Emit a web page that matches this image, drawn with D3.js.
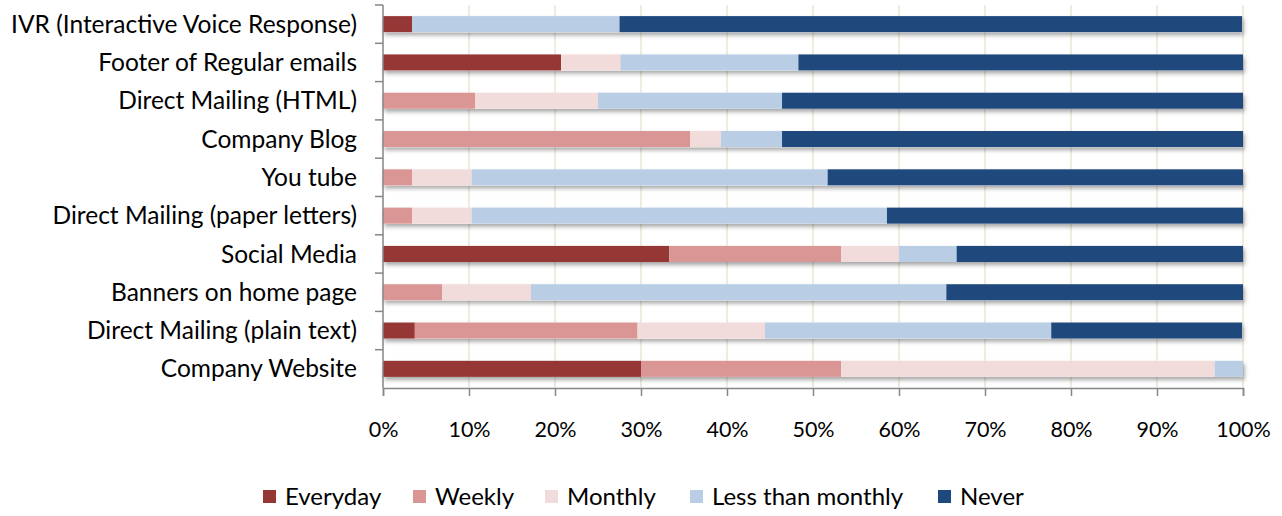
<!DOCTYPE html>
<html lang="en">
<head>
<meta charset="UTF-8">
<title>Channel usage</title>
<style>
  body { margin: 0; background: #fff; }
  text { font-family: Lato, "Open Sans", sans-serif; fill: #000; }
</style>
</head>
<body>
<svg width="1282" height="516"></svg>
<script src="https://cdnjs.cloudflare.com/ajax/libs/d3/7.8.5/d3.min.js"></script>
<script>
// categories listed top to bottom
var categories = ["IVR (Interactive Voice Response)", "Footer of Regular emails", "Direct Mailing (HTML)",
    "Company Blog", "You tube", "Direct Mailing (paper letters)", "Social Media",
    "Banners on home page", "Direct Mailing (plain text)", "Company Website"];
var seriesNames = ["Everyday", "Weekly", "Monthly", "Less than monthly", "Never"];
var seriesColors = ["#953735", "#D99694", "#F2DCDB", "#B9CDE5", "#1F497D"];

// percentages per series, same order as categories
var everyday = [3.4, 20.7, 0, 0, 0, 0, 33.3, 0, 3.7, 30.0];
var weekly = [0, 0, 10.7, 35.7, 3.4, 3.4, 20.0, 6.9, 25.9, 23.3];
var monthly = [0, 6.9, 14.3, 3.6, 6.9, 6.9, 6.7, 10.3, 14.8, 43.4];
var lessThanMonthly = [24.1, 20.7, 21.4, 7.1, 41.4, 48.3, 6.7, 48.3, 33.3, 3.3];
var never = [72.4, 51.7, 53.6, 53.6, 48.3, 41.4, 33.3, 34.5, 22.2, 0];
var xTicks = [0, 10, 20, 30, 40, 50, 60, 70, 80, 90, 100];

var svg = d3.select("svg");
var plotL = 383, plotR = 1243, plotT = 5, plotB = 388;

var x = d3.scaleLinear().domain([0, 100]).range([plotL, plotR]);
var y = d3.scaleBand().domain(categories).range([plotT, plotB]).paddingInner(0.58).paddingOuter(0.29);

var defs = svg.append("defs");
var f = defs.append("filter").attr("id", "shadow").attr("x", "-5%").attr("y", "-50%").attr("width", "110%").attr("height", "250%");
f.append("feDropShadow").attr("dx", 1.5).attr("dy", 3).attr("stdDeviation", 2)
    .attr("flood-color", "#000").attr("flood-opacity", 0.35);

// gridlines
svg.append("g").selectAll("line").data(xTicks.slice(1)).join("line")
    .attr("x1", d => x(d)).attr("x2", d => x(d))
    .attr("y1", plotT).attr("y2", plotB)
    .attr("stroke", "#EEEBDF").attr("stroke-width", 2);

// stacked data
var rows = categories.map(function (c, i) {
    return { cat: c, Everyday: everyday[i], Weekly: weekly[i], Monthly: monthly[i],
        "Less than monthly": lessThanMonthly[i], Never: never[i] };
});
var stack = d3.stack().keys(seriesNames)(rows);

var barsG = svg.append("g");
// shadow layer under each whole bar
barsG.selectAll("rect.sh").data(rows).join("rect")
    .attr("class", "sh")
    .attr("x", x(0)).attr("y", d => y(d.cat))
    .attr("width", d => x(d3.sum(seriesNames, k => d[k])) - x(0))
    .attr("height", y.bandwidth())
    .attr("fill", "#fff").attr("filter", "url(#shadow)");

stack.forEach(function (layer, si) {
    barsG.append("g").selectAll("rect").data(layer).join("rect")
        .attr("x", d => x(d[0]))
        .attr("y", d => y(d.data.cat))
        .attr("width", d => Math.max(0, x(d[1]) - x(d[0])))
        .attr("height", y.bandwidth())
        .attr("fill", seriesColors[si]);
});

// x axis
var xAxis = svg.append("g").attr("transform", "translate(0," + plotB + ")")
    .call(d3.axisBottom(x).tickValues(xTicks).tickSize(8).tickPadding(26).tickFormat(d => d + "%"));
xAxis.select(".domain").attr("stroke", "#868686").attr("stroke-width", 1.5);
xAxis.selectAll(".tick line").attr("stroke", "#868686").attr("stroke-width", 1.5);
xAxis.selectAll("text").style("font-size", "21.5px").attr("fill", "#000");

// y axis (category boundaries as ticks)
svg.append("line").attr("x1", plotL).attr("x2", plotL).attr("y1", plotT).attr("y2", plotB)
    .attr("stroke", "#868686").attr("stroke-width", 1.5);
var step = y.step();
svg.append("g").selectAll("line").data(d3.range(categories.length)).join("line")
    .attr("x1", plotL - 8).attr("x2", plotL)
    .attr("y1", d => plotT + d * step).attr("y2", d => plotT + d * step)
    .attr("stroke", "#868686").attr("stroke-width", 1.5);

svg.append("g").selectAll("text").data(categories).join("text")
    .attr("x", 357).attr("y", d => y(d) + y.bandwidth() / 2)
    .attr("dy", "0.35em").attr("text-anchor", "end")
    .style("font-size", "24.5px").text(d => d);

// legend
var legendX = [263, 413, 545, 690, 938];
var lg = svg.append("g").selectAll("g").data(seriesNames).join("g")
    .attr("transform", (d, i) => "translate(" + legendX[i] + ",490)");
lg.append("rect").attr("width", 13).attr("height", 13).attr("fill", (d, i) => seriesColors[i]);
lg.append("text").attr("x", 22).attr("y", 7).attr("dy", "0.35em")
    .style("font-size", "24px").text(d => d);
</script>
</body>
</html>
